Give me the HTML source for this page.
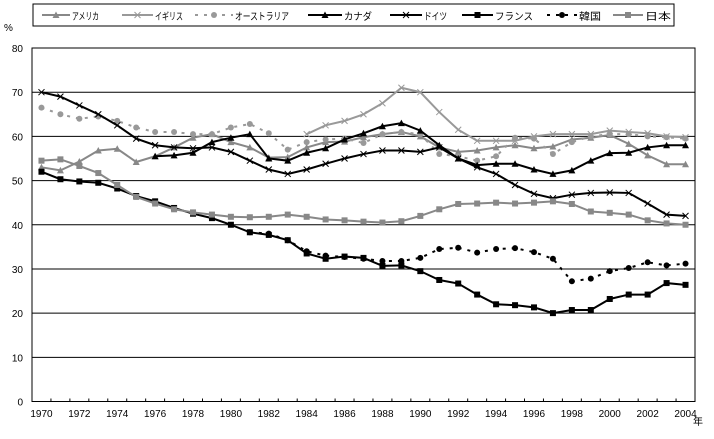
<!DOCTYPE html>
<html><head><meta charset="utf-8"><style>
html,body{margin:0;padding:0;background:#fff;}
svg text{font-family:"Liberation Sans","Noto Sans CJK JP",sans-serif;font-size:10px;fill:#000;}
</style></head><body>
<svg id="chart" width="714" height="434" xmlns="http://www.w3.org/2000/svg"></svg>
<script>
const years=[];for(let y=1970;y<=2004;y++)years.push(y);
const usa=[53,52.3,54.3,56.8,57.2,54.2,55.5,57.5,59.7,60.5,58.7,57.5,55.2,55.3,57.5,58.7,58.8,59.8,60.5,61,60,57.5,56.5,56.8,57.5,58,57.3,57.7,59.3,59.7,60.3,58.3,55.7,53.7,53.7];
const uk=[null,null,null,null,null,null,null,null,null,null,null,null,null,null,60.5,62.5,63.5,65,67.5,71,70,65.5,61.5,59,59,59,60,60.5,60.5,60.5,61.3,61,60.7,60,59.8];
const australia=[66.5,65,64,64.5,63.5,62,61,61,60.5,60.5,62,62.8,60.7,57,58.7,59.3,59.5,58.5,60.5,61,60.5,56,55.5,54.5,55.5,59.7,59.5,56,58.7,60,60.5,60.5,60,59.8,59.5];
const canada=[null,null,null,null,null,null,55.5,55.7,56.3,58.7,59.7,60.5,55,54.5,56.3,57.3,59.3,60.7,62.3,63,61.3,58,55,53.5,53.8,53.8,52.5,51.5,52.3,54.5,56.2,56.3,57.5,58,58];
const germany=[70,69,67,65,62.5,59.5,58,57.5,57.3,57.5,56.5,54.5,52.5,51.5,52.5,53.8,55,56,56.8,56.8,56.5,57.5,55,53,51.5,49,47,46,46.8,47.2,47.3,47.2,44.8,42.3,42];
const france=[52,50.3,49.8,49.5,48.2,46.5,45.3,43.8,42.5,41.5,40,38.3,37.7,36.5,33.5,32.3,32.8,32.5,30.7,30.8,29.5,27.5,26.7,24.2,22,21.8,21.3,20,20.7,20.7,23.2,24.2,24.2,26.8,26.4];
const korea=[null,null,null,null,null,null,null,null,null,null,null,38.3,38,36.5,34,33,32.7,32.3,31.8,31.8,32.5,34.5,34.8,33.7,34.5,34.7,33.8,32.3,27.2,27.8,29.5,30.2,31.5,30.8,31.2];
const japan=[54.5,54.8,53.3,51.7,49,46.3,44.8,43.5,42.8,42.3,41.8,41.7,41.8,42.3,41.8,41.2,41,40.7,40.5,40.8,42,43.5,44.7,44.8,45,44.8,45,45.3,44.7,43,42.7,42.3,41,40.3,40];
const yTicks=[0,10,20,30,40,50,60,70,80];
const seriesNames=["アメリカ","イギリス","オーストラリア","カナダ","ドイツ","フランス","韓国","日本"];
const seriesData=[usa,uk,australia,canada,germany,france,korea,japan];
const seriesSlug=["usa","uk","australia","canada","germany","france","korea","japan"];
const colors=["#888","#999","#999","#000","#000","#000","#000","#888"];
const markers=["tri","x","dot","tri","x","sq","dot","sq"];
const dashed=[false,false,true,false,false,false,true,false];

const NS="http://www.w3.org/2000/svg";
const svg=document.getElementById('chart');
const L=32,R=695,T=48,B=401.5;
const cw=(R-L)/years.length;
const xS=i=>L+cw*(i+0.5);
const yS=v=>B-(v/80)*(B-T);
function mk(t,a,p){const e=document.createElementNS(NS,t);for(const k in a)e.setAttribute(k,a[k]);(p||svg).appendChild(e);return e;}

yTicks.forEach(v=>{
  if(v>0&&v<80){const g=mk('line',{x1:L,x2:R,y1:yS(v),y2:yS(v),stroke:'#000','stroke-width':1});
  
  }
  const t=mk('text',{x:23,y:yS(v)+4,'text-anchor':'end'});t.textContent=v;
  
  
});
const frame=mk('rect',{x:L,y:T,width:R-L,height:B-T,fill:'none',stroke:'#000','stroke-width':1});


for(let i=1;i<years.length;i++){mk('line',{x1:L+cw*i,x2:L+cw*i,y1:B,y2:B-3,stroke:'#000'});}
years.forEach((y,i)=>{if(i%2===0){const t=mk('text',{x:xS(i),y:417,'text-anchor':'middle','font-size':'9'});t.textContent=y;

}});
const unitY=mk('text',{x:4,y:31});unitY.textContent='%';


const unitX=mk('text',{x:693,y:425});unitX.textContent='年';



function marker(g,type,x,y,c){
  if(type==='tri')mk('polygon',{points:`${x},${y-3.5} ${x-3.5},${y+3} ${x+3.5},${y+3}`,fill:c},g);
  else if(type==='sq')mk('rect',{x:x-3,y:y-3,width:6,height:6,fill:c},g);
  else if(type==='dot')mk('circle',{cx:x,cy:y,r:3,fill:c},g);
  else{mk('path',{d:`M${x-3} ${y-3}L${x+3} ${y+3}M${x-3} ${y+3}L${x+3} ${y-3}`,stroke:c,'stroke-width':1},g);}
}
seriesData.forEach((d,s)=>{
  const g=mk('g',{});
  
  
  let cur='';
  d.forEach((v,i)=>{if(v==null)return;cur+=(cur?'L':'M')+xS(i)+' '+yS(v);});
  mk('path',{d:cur,fill:'none',stroke:colors[s],'stroke-width':2,'stroke-dasharray':dashed[s]?'3,6':'none'},g);
  d.forEach((v,i)=>{if(v!=null)marker(g,markers[s],xS(i),yS(v),colors[s]);});
});

const lg=mk('g',{});


mk('rect',{x:33,y:4,width:641,height:22,fill:'#fff',stroke:'#000'},lg);
const lx=[42,122,195,308,390,462,547,613];
const lw=[28,31,38,34,32,31,30,30];
const tw=[27,28,54,28,23,38,22,26];
seriesNames.forEach((n,s)=>{
  const e=mk('g',{},lg);
  
  
  const x=lx[s];
  mk('line',{x1:x,x2:x+lw[s],y1:15,y2:15,stroke:colors[s],'stroke-width':2,'stroke-dasharray':dashed[s]?'3,6':'none'},e);
  marker(e,markers[s],x+lw[s]/2,15,colors[s]);
  const t=mk('text',{x:x+lw[s]+2,y:20,'font-size':'12',textLength:tw[s],lengthAdjust:'spacingAndGlyphs'},e);t.textContent=n;
});
</script>
</body></html>
